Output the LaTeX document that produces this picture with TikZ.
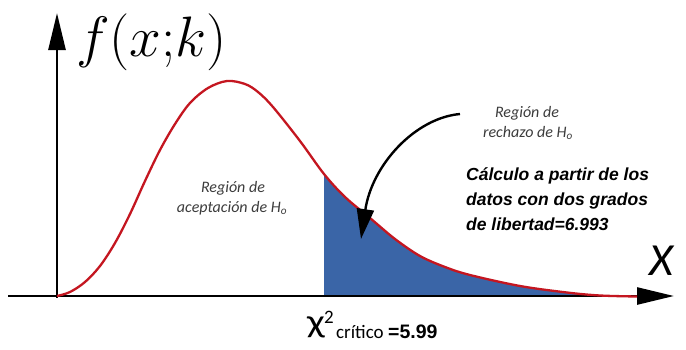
\RequirePackage{fix-cm}
\documentclass[tikz,border=0pt]{standalone}
\usepackage{graphicx}
\usepackage{fontspec}
\usetikzlibrary{arrows.meta}
\newfontfamily\carlito{Carlito}
\newfontfamily\arialf{Liberation Sans}
\definecolor{curvered}{RGB}{196,22,32}
\definecolor{fillblue}{RGB}{58,101,167}
\definecolor{labgray}{RGB}{60,60,60}
\tikzset{
  axisline/.style={line width=2.6pt, black, -{Triangle[length=37pt,width=17pt]}},
  pdfcurve/.style={line width=2.3pt, curvered, line join=round},
  reglabel/.style={font=\carlito\itshape\fontsize{16}{18}\selectfont, text=labgray, inner sep=0pt, anchor=base},
  calclabel/.style={font=\arialf\bfseries\itshape\fontsize{17.5}{20}\selectfont, inner sep=0pt, anchor=base west},
  pointer/.style={line width=2.4pt, black, -{Triangle[length=30pt,width=17pt]}}
}
\newcommand{\curvepts}{(57,296) (70,292) (85,282) (100,266) (115,243) (130,214) (145,181) (160,150) (175,124) (190,103) (208,88) (227,81) (245,84) (258,92) (273,107) (300,141) (324,174) (345,197) (370,218) (395,239) (420,256) (445,267) (470,275) (520,286) (567,292.5) (600,295.5) (637,296.5)}
\begin{document}
\begin{tikzpicture}[x=1pt,y=-1pt]
\useasboundingbox (0,0) rectangle (686,349);
% shaded rejection region
\begin{scope}
  \clip (324,0) rectangle (686,300);
  \fill[fillblue] plot[smooth,tension=0.55] coordinates {\curvepts} -- cycle;
\end{scope}
% axes
\coordinate (O) at (57,297.5);
\coordinate (ytop) at (57,13);
\coordinate (xleft) at (8,296);
\coordinate (xright) at (674,296);
\draw[axisline] (O) -- (ytop);
\draw[axisline] (xleft) -- (xright);
% density curve
\draw[pdfcurve] plot[smooth,tension=0.55] coordinates {\curvepts};
% labels
\node[inner sep=0pt, anchor=base west, font=\fontsize{57}{57}\selectfont] (fx) at (76,56) {$f(x{;}k)$};
\node[inner sep=0pt, anchor=base, font=\carlito\itshape\fontsize{46}{46}\selectfont] (xlab) at (661,275) {X};
\node[reglabel] (acc1) at (233,192) {Región de};
\node[reglabel] (acc2) at (232,212) {aceptación de H\textsubscript{o}};
\node[reglabel] (rej1) at (527,117) {Región de};
\node[reglabel] (rej2) at (528,137) {rechazo de H\textsubscript{o}};
\node[calclabel] (c1) at (466,180) {Cálculo a partir de los};
\node[calclabel] (c2) at (466,205) {datos con dos grados};
\node[calclabel] (c3) at (466,230) {de libertad=6.993};
% critical value label
\node[inner sep=0pt, anchor=base west, font=\carlito\fontsize{31}{31}\selectfont] (chi) at (307,338) {\raisebox{\depth}{\scalebox{1.35}[1.05]{χ}}};
\node[inner sep=0pt, anchor=base west, font=\carlito\fontsize{19}{19}\selectfont] (two) at (324,323) {2};
\node[inner sep=0pt, anchor=base west, font=\carlito\fontsize{19}{19}\selectfont] (crit) at (336,338) {crítico};
\node[inner sep=0pt, anchor=base west, font=\arialf\bfseries\fontsize{19.5}{20}\selectfont] (val) at (388,338) {=5.99};
% pointer arrow
\coordinate (ptrS) at (460,114);
\coordinate (ptrE) at (361,239);
\draw[pointer] (ptrS) .. controls (415,118) and (372,165) .. (ptrE);
\end{tikzpicture}
\end{document}
